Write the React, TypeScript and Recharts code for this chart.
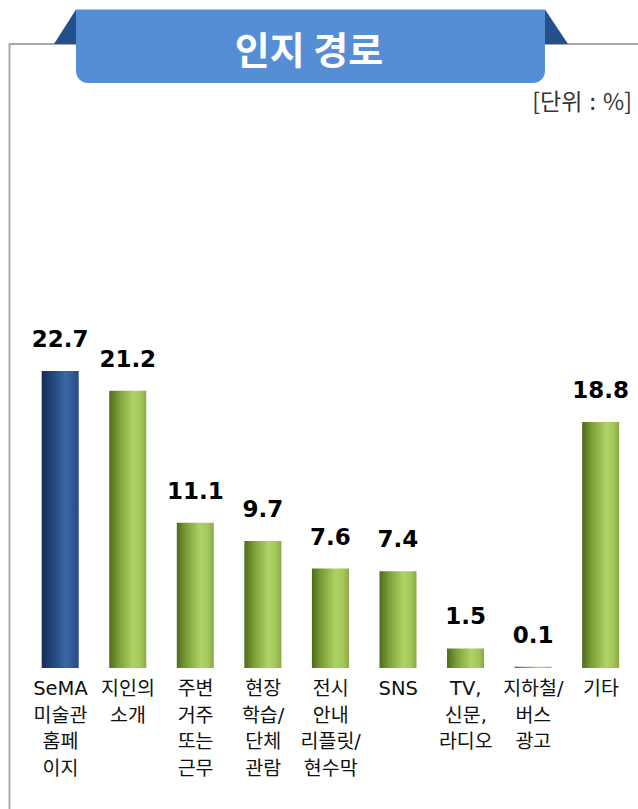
import React from "react";
import { BarChart, Bar, XAxis, YAxis, Cell, LabelList } from "recharts";

const categories = [
  "SeMA 미술관 홈페이지",
  "지인의 소개",
  "주변 거주 또는 근무",
  "현장 학습/단체 관람",
  "전시 안내 리플릿/현수막",
  "SNS",
  "TV, 신문, 라디오",
  "지하철/버스 광고",
  "기타",
];
const values = [22.7, 21.2, 11.1, 9.7, 7.6, 7.4, 1.5, 0.1, 18.8];
const tickLines = [
  ["SeMA", "미술관", "홈페", "이지"],
  ["지인의", "소개"],
  ["주변", "거주", "또는", "근무"],
  ["현장", "학습/", "단체", "관람"],
  ["전시", "안내", "리플릿/", "현수막"],
  ["SNS"],
  ["TV,", "신문,", "라디오"],
  ["지하철/", "버스", "광고"],
  ["기타"],
];
const highlightIndex = 0;

const data = categories.map((c, i) => ({ name: c, value: values[i] }));

const FONT = '"DejaVu Sans", "Noto Sans CJK KR", sans-serif';
const KFONT = '"Noto Sans CJK KR", "DejaVu Sans", sans-serif';

const CategoryTick = (props: any) => {
  const { x, y, payload } = props;
  const idx = categories.indexOf(payload.value);
  const lines = tickLines[idx] || [payload.value];
  return (
    <text x={x} y={y} textAnchor="middle" fill="#111" fontSize={19.5} fontFamily={FONT}>
      {lines.map((l, i) => (
        <tspan key={i} x={x} dy={i === 0 ? 27 : 26.7}>
          {l}
        </tspan>
      ))}
    </text>
  );
};

export default function App() {
  return (
    <div
      style={{
        position: "absolute",
        left: 0,
        top: 0,
        width: 638,
        height: 809,
        background: "#fff",
        fontFamily: KFONT,
        overflow: "hidden",
      }}
    >
      <svg width={638} height={809} style={{ position: "absolute", left: 0, top: 0 }}>
        <polyline points="9.5,809 9.5,44 638,44" fill="none" stroke="#a9a9a9" strokeWidth={2} />
      </svg>
      <div style={{ position: "absolute", left: 0, top: 0 }}>
        <BarChart
          width={638}
          height={809}
          data={data}
          margin={{ top: 341, right: 3.3, bottom: 0, left: 26.7 }}
        >
          <defs>
            <linearGradient id="greenGrad" x1="0" y1="0" x2="1" y2="0">
              <stop offset="0%" stopColor="#4e6b1c" />
              <stop offset="25%" stopColor="#7b9d37" />
              <stop offset="65%" stopColor="#b0d366" />
              <stop offset="85%" stopColor="#a4c75a" />
              <stop offset="100%" stopColor="#86a944" />
            </linearGradient>
            <linearGradient id="blueGrad" x1="0" y1="0" x2="1" y2="0">
              <stop offset="0%" stopColor="#132d55" />
              <stop offset="30%" stopColor="#23477c" />
              <stop offset="65%" stopColor="#3a69a6" />
              <stop offset="100%" stopColor="#244b82" />
            </linearGradient>
          </defs>
          <YAxis hide domain={[0, 25]} />
          <XAxis
            dataKey="name"
            height={141}
            axisLine={false}
            tickLine={false}
            tickSize={0}
            tickMargin={0}
            interval={0}
            tick={<CategoryTick />}
          />
          <Bar dataKey="value" barSize={37} isAnimationActive={false}>
            {data.map((d, i) => (
              <Cell key={i} fill={i === highlightIndex ? "url(#blueGrad)" : "url(#greenGrad)"} />
            ))}
            <LabelList
              dataKey="value"
              position="top"
              offset={24}
              fill="#000"
              fontSize={23}
              fontWeight={700}
              fontFamily={FONT}
              formatter={(v: any) => Number(v).toFixed(1)}
            />
          </Bar>
        </BarChart>
      </div>
      <svg width={638} height={100} style={{ position: "absolute", left: 0, top: 0 }}>
        <polygon points="54,44 76,9.5 76,44" fill="#21508a" />
        <polygon points="545,9.5 568,44 545,44" fill="#21508a" />
        <path d="M76,9.5 H545 V71 A12,12 0 0 1 533,83 H88 A12,12 0 0 1 76,71 Z" fill="#558ed5" />
        <text
          x={309}
          y={63.5}
          textAnchor="middle"
          fill="#fff"
          fontSize={38}
          fontWeight={700}
          fontFamily={KFONT}
        >
          인지 경로
        </text>
      </svg>
      <div
        style={{
          position: "absolute",
          right: 6,
          top: 84,
          fontSize: 23,
          color: "#333",
          fontFamily: KFONT,
          lineHeight: "32px",
          whiteSpace: "nowrap",
          wordSpacing: 2,
        }}
      >
        [단위 : %]
      </div>
    </div>
  );
}
